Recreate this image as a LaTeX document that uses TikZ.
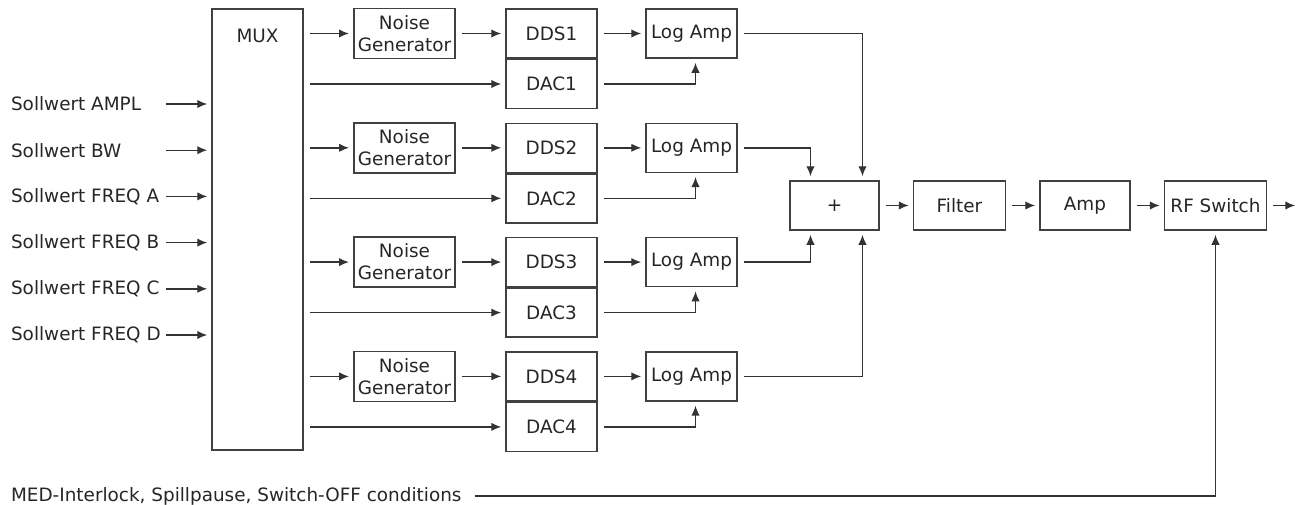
\documentclass[tikz,border=0pt]{standalone}
\usepackage{fontspec}
\setmainfont{DejaVu Sans}
\usetikzlibrary{positioning,arrows.meta}

\begin{document}
\begin{tikzpicture}[x=0.5pt,y=-0.5pt,
  font=\fontsize{9.2}{11}\selectfont,
  every node/.style={text=black!85},
  blk/.style={draw=black!75,line width=0.75pt,
    minimum width=45.5pt,minimum height=24.5pt,
    inner sep=2pt,align=center},
  arr/.style={draw=black!80,line width=0.7pt,
    -{Latex[length=5pt,width=4.2pt]},
    shorten <=3pt,shorten >=2pt},
  node distance=16.5pt]
 \useasboundingbox (0,0) rectangle (1297,504);

 \node[blk,minimum height=220.5pt] (mux) at (257.5,229.5) {};
 \node (muxlbl) at ([yshift=-14pt]mux.north) {MUX};

 % setpoints into the MUX
 \foreach \i/\lbl in {1/AMPL,2/BW,3/FREQ A,4/FREQ B,5/FREQ C,6/FREQ D}{
   \node[anchor=west] (in\i) at (4,{104+46.2*(\i-1)}) {Sollwert \lbl};
   \draw[arr,shorten <=0pt] ([xshift=-22.5pt]mux.west |- in\i) -- (mux.west |- in\i);
 }

 \node[blk,minimum width=44.5pt] (sum) at (834.5,205.5) {+};
 \node[blk,right=of sum,minimum width=46pt] (filter) {Filter};
 \node[blk,right=of filter,minimum width=45pt] (amp) {Amp};
 \node[blk,right=of amp,minimum width=51pt] (rf) {RF Switch};
 \coordinate[right=16pt of rf] (out);

 % the four channels
 \foreach \i in {1,...,4}{
   \pgfmathsetmacro\yy{33.5+114.3*(\i-1)}
   \node[blk,minimum width=50.5pt,minimum height=25pt] (ng\i) at (404.5,\yy) {Noise\\Generator};
   \node[blk] (dds\i) at (551.5,\yy) {DDS\i};
   \node[blk,below=0pt of dds\i] (dac\i) {DAC\i};
   \node[blk] (la\i) at (691.5,\yy) {Log Amp};
   \draw[arr] (mux.east |- ng\i) -- (ng\i);
   \draw[arr] (mux.east |- dac\i) -- (dac\i);
   \draw[arr] (ng\i) -- (dds\i);
   \draw[arr] (dds\i) -- (la\i);
   \draw[arr] (dac\i.east) -| ([xshift=2pt]la\i.south);
 }

 \draw[arr] (la1.east) -| ([xshift=14pt]sum.north);
 \draw[arr] (la2.east) -| ([xshift=-12pt]sum.north);
 \draw[arr] (la3.east) -| ([xshift=-12pt]sum.south);
 \draw[arr] (la4.east) -| ([xshift=14pt]sum.south);

 \draw[arr] (sum) -- (filter);
 \draw[arr] (filter) -- (amp);
 \draw[arr] (amp) -- (rf);
 \draw[arr] (rf) -- (out);

 \node[anchor=west] (med) at (4,496) {MED-Interlock, Spillpause, Switch-OFF conditions};
 \draw[arr] (med.east) -| (rf.south);

\end{tikzpicture}
\end{document}
